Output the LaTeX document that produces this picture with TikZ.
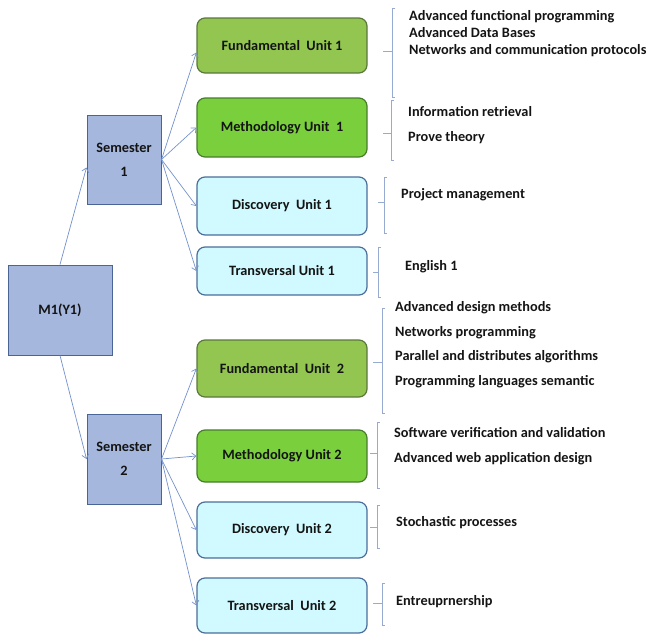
\documentclass[tikz,border=0pt]{standalone}
\usepackage{fontspec}
\setmainfont{Carlito}
\usetikzlibrary{arrows.meta}

\definecolor{textgray}{RGB}{20,20,20}
\definecolor{fundfill}{RGB}{146,198,80}
\definecolor{fundline}{RGB}{90,120,60}
\definecolor{methfill}{RGB}{122,208,60}
\definecolor{methline}{RGB}{70,125,45}
\definecolor{discfill}{RGB}{208,250,255}
\definecolor{discline}{RGB}{75,110,155}
\definecolor{semfill}{RGB}{165,183,220}
\definecolor{semline}{RGB}{75,100,150}
\definecolor{arrowblue}{RGB}{115,145,205}
\definecolor{bracketblue}{RGB}{150,170,210}

\begin{document}
\begin{tikzpicture}[x=1pt, y=-1pt, >={Straight Barb[length=4pt,width=7pt]},
  every node/.style={font=\bfseries\fontsize{14.3}{17}\selectfont, text=textgray},
  unitbox/.style={draw, rounded corners=8pt, line width=1.2pt, minimum width=170pt, inner sep=0pt},
  fundbox/.style={unitbox, fill=fundfill, draw=fundline},
  methbox/.style={unitbox, fill=methfill, draw=methline},
  discbox/.style={unitbox, fill=discfill, draw=discline},
  sembox/.style={draw=semline, fill=semfill, line width=1pt, inner sep=0pt, align=center, font=\bfseries\fontsize{14.3}{24}\selectfont},
  arrow/.style={->, draw=arrowblue, line width=0.7pt},
  bracketline/.style={draw=bracketblue, line width=0.7pt},
  courses/.style={anchor=west, align=left, inner sep=0pt, font=\bfseries\fontsize{14.3}{24.5}\selectfont}]
\useasboundingbox (0,0) rectangle (654,637);

\node[sembox, minimum width=104pt, minimum height=90pt] (m1) at (60,310) {M1(Y1)};
\node[sembox, minimum width=74pt, minimum height=89pt] (sem1) at (124,159.5) {Semester\\1};
\node[sembox, minimum width=74pt, minimum height=90pt] (sem2) at (124,459) {Semester\\2};

\node[fundbox, minimum height=55pt] (fu1) at (282,45.5) {Fundamental\ \ Unit 1};
\node[methbox, minimum height=59pt] (me1) at (282,127.5) {Methodology Unit\ \ 1};
\node[discbox, minimum height=58pt] (di1) at (282,206) {Discovery\ \ Unit 1};
\node[discbox, minimum height=48pt] (tr1) at (282,271) {Transversal Unit 1};
\node[fundbox, minimum height=57pt] (fu2) at (282,368.5) {Fundamental\ \ Unit\ \ 2};
\node[methbox, minimum height=52pt] (me2) at (282,456) {Methodology Unit 2};
\node[discbox, minimum height=56pt] (di2) at (282,530) {Discovery\ \ Unit 2};
\node[discbox, minimum height=55pt] (tr2) at (282,605.5) {Transversal\ \ Unit 2};

\draw[arrow] (m1.north) -- ([yshift=-8pt]sem1.west);
\draw[arrow] (m1.south) -- (sem2.west);

\draw[arrow] (sem1.east) -- ([yshift=-7pt]fu1.west);
\draw[arrow] (sem1.east) -- (me1.west);
\draw[arrow] (sem1.east) -- (di1.west);
\draw[arrow] (sem1.east) -- (tr1.west);
\draw[arrow] (sem2.east) -- (fu2.west);
\draw[arrow] (sem2.east) -- (me2.west);
\draw[arrow] (sem2.east) -- (di2.west);
\draw[arrow] (sem2.east) -- (tr2.west);

\node[courses, font=\bfseries\fontsize{14.3}{16.8}\selectfont] (fu1list) at (409,33.5)
  {Advanced functional programming\\Advanced Data Bases\\Networks and communication protocols};
\node[courses] (me1list) at (408,125) {Information retrieval\\Prove theory};
\node[courses] (di1list) at (401,195) {Project management};
\node[courses] (tr1list) at (405,267) {English 1};
\node[courses] (fu2list) at (395,344.5)
  {Advanced design methods\\Networks programming\\Parallel and distributes algorithms\\Programming languages semantic};
\node[courses] (me2list) at (394,446) {Software verification and validation\\Advanced web application design};
\node[courses] (di2list) at (396,523) {Stochastic processes};
\node[courses] (tr2list) at (396,602) {Entreuprnership};

\draw[bracketline] (395,8) -- (392,8) -- (392,97) -- (395,97) (392,51) -- (383,51);
\draw[bracketline] (394,100) -- (391,100) -- (391,160) -- (394,160) (391,133) -- (383,133);
\draw[bracketline] (387,177) -- (384,177) -- (384,233) -- (387,233) (384,202) -- (378,202);
\draw[bracketline] (381,247) -- (378,247) -- (378,297) -- (381,297) (378,272) -- (373,272);
\draw[bracketline] (385,308) -- (382,308) -- (382,413) -- (385,413) (382,362) -- (373,362);
\draw[bracketline] (380,422) -- (377,422) -- (377,488) -- (380,488) (377,453) -- (370,453);
\draw[bracketline] (380,505) -- (377,505) -- (377,548) -- (380,548) (377,527) -- (370,527);
\draw[bracketline] (385,583) -- (382,583) -- (382,625) -- (385,625) (382,603) -- (373,603);
\end{tikzpicture}
\end{document}
